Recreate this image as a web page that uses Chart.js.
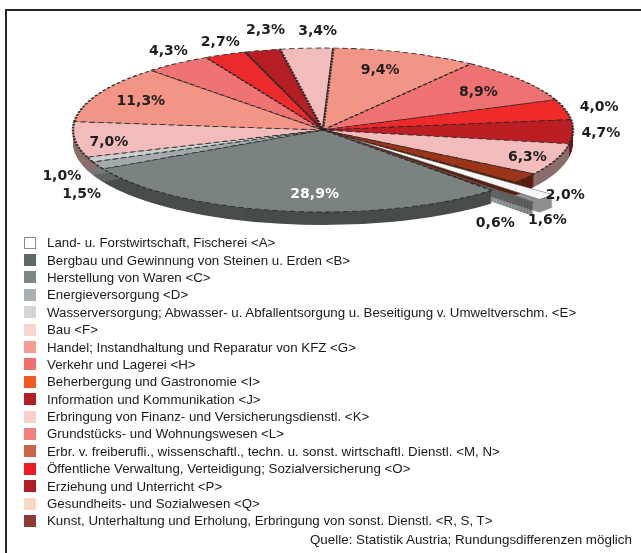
<!DOCTYPE html>
<html><head><meta charset="utf-8">
<script src="https://cdn.jsdelivr.net/npm/chart.js@4.4.1/dist/chart.umd.min.js"></script>
<style>
html,body{margin:0;padding:0;background:#fff;width:641px;height:553px;overflow:hidden;}
#frame{position:absolute;left:5px;top:9px;width:700px;height:600px;border-left:2px solid #262626;border-top:2px solid #262626;box-sizing:border-box;}
#wrap{position:absolute;left:0;top:0;width:641px;height:553px;}
#legend{position:absolute;left:24px;top:234px;font-family:"Liberation Sans Narrow","Arial Narrow","Liberation Sans",Arial,sans-serif;font-size:13.3px;color:#1a1a1a;}
.row{height:17.4px;display:flex;align-items:center;white-space:nowrap;}
.sw{width:12px;height:12px;margin-right:11px;box-sizing:border-box;flex:none;}
#src{position:absolute;right:9px;top:532px;font-family:"Liberation Sans Narrow","Arial Narrow","Liberation Sans",Arial,sans-serif;font-size:13.4px;color:#1a1a1a;white-space:nowrap;}
</style></head>
<body>
<div id="frame"></div>
<div id="wrap"><canvas id="c" width="641" height="553"></canvas></div>
<div id="legend"></div>
<div id="src">Quelle: Statistik Austria; Rundungsdifferenzen möglich</div>
<script>
// ---- data ----
const categories = [
  "Land- u. Forstwirtschaft, Fischerei <A>",
  "Bergbau und Gewinnung von Steinen u. Erden <B>",
  "Herstellung von Waren  <C>",
  "Energieversorgung <D>",
  "Wasserversorgung; Abwasser- u. Abfallentsorgung u. Beseitigung v. Umweltverschm. <E>",
  "Bau <F>",
  "Handel; Instandhaltung und Reparatur von KFZ <G>",
  "Verkehr und Lagerei <H>",
  "Beherbergung und Gastronomie <I>",
  "Information und Kommunikation <J>",
  "Erbringung von Finanz- und Versicherungsdienstl. <K>",
  "Grundstücks- und Wohnungswesen <L>",
  "Erbr. v. freiberufli., wissenschaftl., techn. u. sonst. wirtschaftl. Dienstl. <M, N>",
  "Öffentliche Verwaltung, Verteidigung; Sozialversicherung <O>",
  "Erziehung und Unterricht <P>",
  "Gesundheits- und Sozialwesen <Q>",
  "Kunst, Unterhaltung und Erholung, Erbringung von sonst. Dienstl. <R, S, T>"
];
const shares = [1.6, 0.6, 28.9, 1.5, 1.0, 7.0, 11.3, 4.3, 2.7, 2.3, 3.4, 9.4, 8.9, 4.0, 4.7, 6.3, 2.0];
const valueLabels = ["1,6%","0,6%","28,9%","1,5%","1,0%","7,0%","11,3%","4,3%","2,7%","2,3%","3,4%","9,4%","8,9%","4,0%","4,7%","6,3%","2,0%"];

// ---- styles ----
const sliceColors = ["#f7f7f7","#6a7272","#7b8282","#a3aaab","#c9cecf","#f2bcbc","#f29587","#ef7373","#ec2a2b","#b51e25","#f2bcbc","#f29587","#ef7272","#ee2a2b","#bd1e24","#f2bcbc","#9b3419"];
const legendColors = ["#ffffff","#5d6868","#7d8787","#a9b0b3","#d1d5d7","#fbd5d0","#f59d92","#f07070","#f15a24","#b21f24","#fad0cc","#f37f7a","#c8644a","#ed1c24","#b01e23","#fcd7c4","#8e3b36"];
const sliceOffset = [100,100,0,0,0,0,0,0,0,0,0,0,0,0,0,0,0];
// label placement: radial factor + nudge
const labelRadius = [1,1,0.8,1,1,0.85,0.75,1,1,1,1,0.75,0.75,1,1,0.85,1];
const labelShift = [[40,35],[0,34],[25,0],[-16,29],[-28,17],[-3,4],[-14,-1],[-9,-12],[-5,-12],[3,-20],[11,-17],[-5,-2],[7,0],[34,-2],[28,2],[6,2],[40,17]];

const PCX = 323, PCY = 130, RX = 250, RY = 82, DEPTH = 13;

// legend (HTML)
const lg = document.getElementById('legend');
categories.forEach((c,i)=>{
  const r = document.createElement('div'); r.className='row';
  const s = document.createElement('div'); s.className='sw';
  s.style.background = legendColors[i];
  if (i===0) s.style.border = '1px solid #8a8a8a';
  const t = document.createElement('span'); t.textContent = c;
  r.appendChild(s); r.appendChild(t); lg.appendChild(r);
});

function xf(chart){
  const a = chart.getDatasetMeta(0).data[0];
  return {R:a.outerRadius, cx:a.x, cy:a.y};
}

const pie3d = {
  id:'pie3d',
  beforeDatasetsDraw(chart){
    const arcs = chart.getDatasetMeta(0).data;
    const {R,cx,cy} = xf(chart);
    const off = document.createElement('canvas');
    off.width = chart.width; off.height = chart.height;
    const o = off.getContext('2d');
    o.stroke = function(){};
    arcs.forEach(a => {
      for (let d = DEPTH; d >= 1; d--) {
        o.save();
        o.translate(PCX, PCY + d);
        o.scale(RX/R, RY/R);
        o.translate(-cx, -cy);
        a.draw(o);
        o.restore();
      }
    });
    o.globalCompositeOperation = 'source-atop';
    o.fillStyle = 'rgba(0,0,0,0.42)';
    o.fillRect(0,0,off.width,off.height);
    const ctx = chart.ctx;
    ctx.drawImage(off, 0, 0, chart.width, chart.height);
    ctx.save();
    ctx.translate(PCX, PCY); ctx.scale(RX/R, RY/R); ctx.translate(-cx, -cy);
  },
  afterDatasetsDraw(chart){
    chart.ctx.restore();
    const arcs = chart.getDatasetMeta(0).data;
    const ctx = chart.ctx;
    ctx.save();
    ctx.font = 'bold 14px "DejaVu Sans", sans-serif';
    ctx.textAlign = 'center'; ctx.textBaseline = 'middle';
    arcs.forEach((a,i)=>{
      const mid = (a.startAngle + a.endAngle)/2;
      const f = labelRadius[i];
      const x = PCX + RX*f*Math.cos(mid) + labelShift[i][0];
      const y = PCY + RY*f*Math.sin(mid) + labelShift[i][1];
      ctx.fillStyle = i===2 ? '#ffffff' : '#1e1e1e';
      ctx.fillText(valueLabels[i], x, y);
    });
    ctx.restore();
  }
};

new Chart(document.getElementById('c'), {
  type:'pie',
  data:{labels:categories, datasets:[{
    data:shares, backgroundColor:sliceColors, offset:sliceOffset,
    borderColor:(c)=> c.dataIndex < 2 ? '#555555' : '#2a2a2a',
    borderWidth:(c)=> c.dataIndex < 2 ? 1.2 : 2.2,
    borderDash:(c)=> c.dataIndex < 2 ? [] : [5,3],
    clip:false
  }]},
  options:{
    responsive:false, animation:false, events:[],
    rotation:129.6,
    plugins:{legend:{display:false}, tooltip:{enabled:false}},
    layout:{padding:0}
  },
  plugins:[pie3d]
});
</script>
</body></html>
